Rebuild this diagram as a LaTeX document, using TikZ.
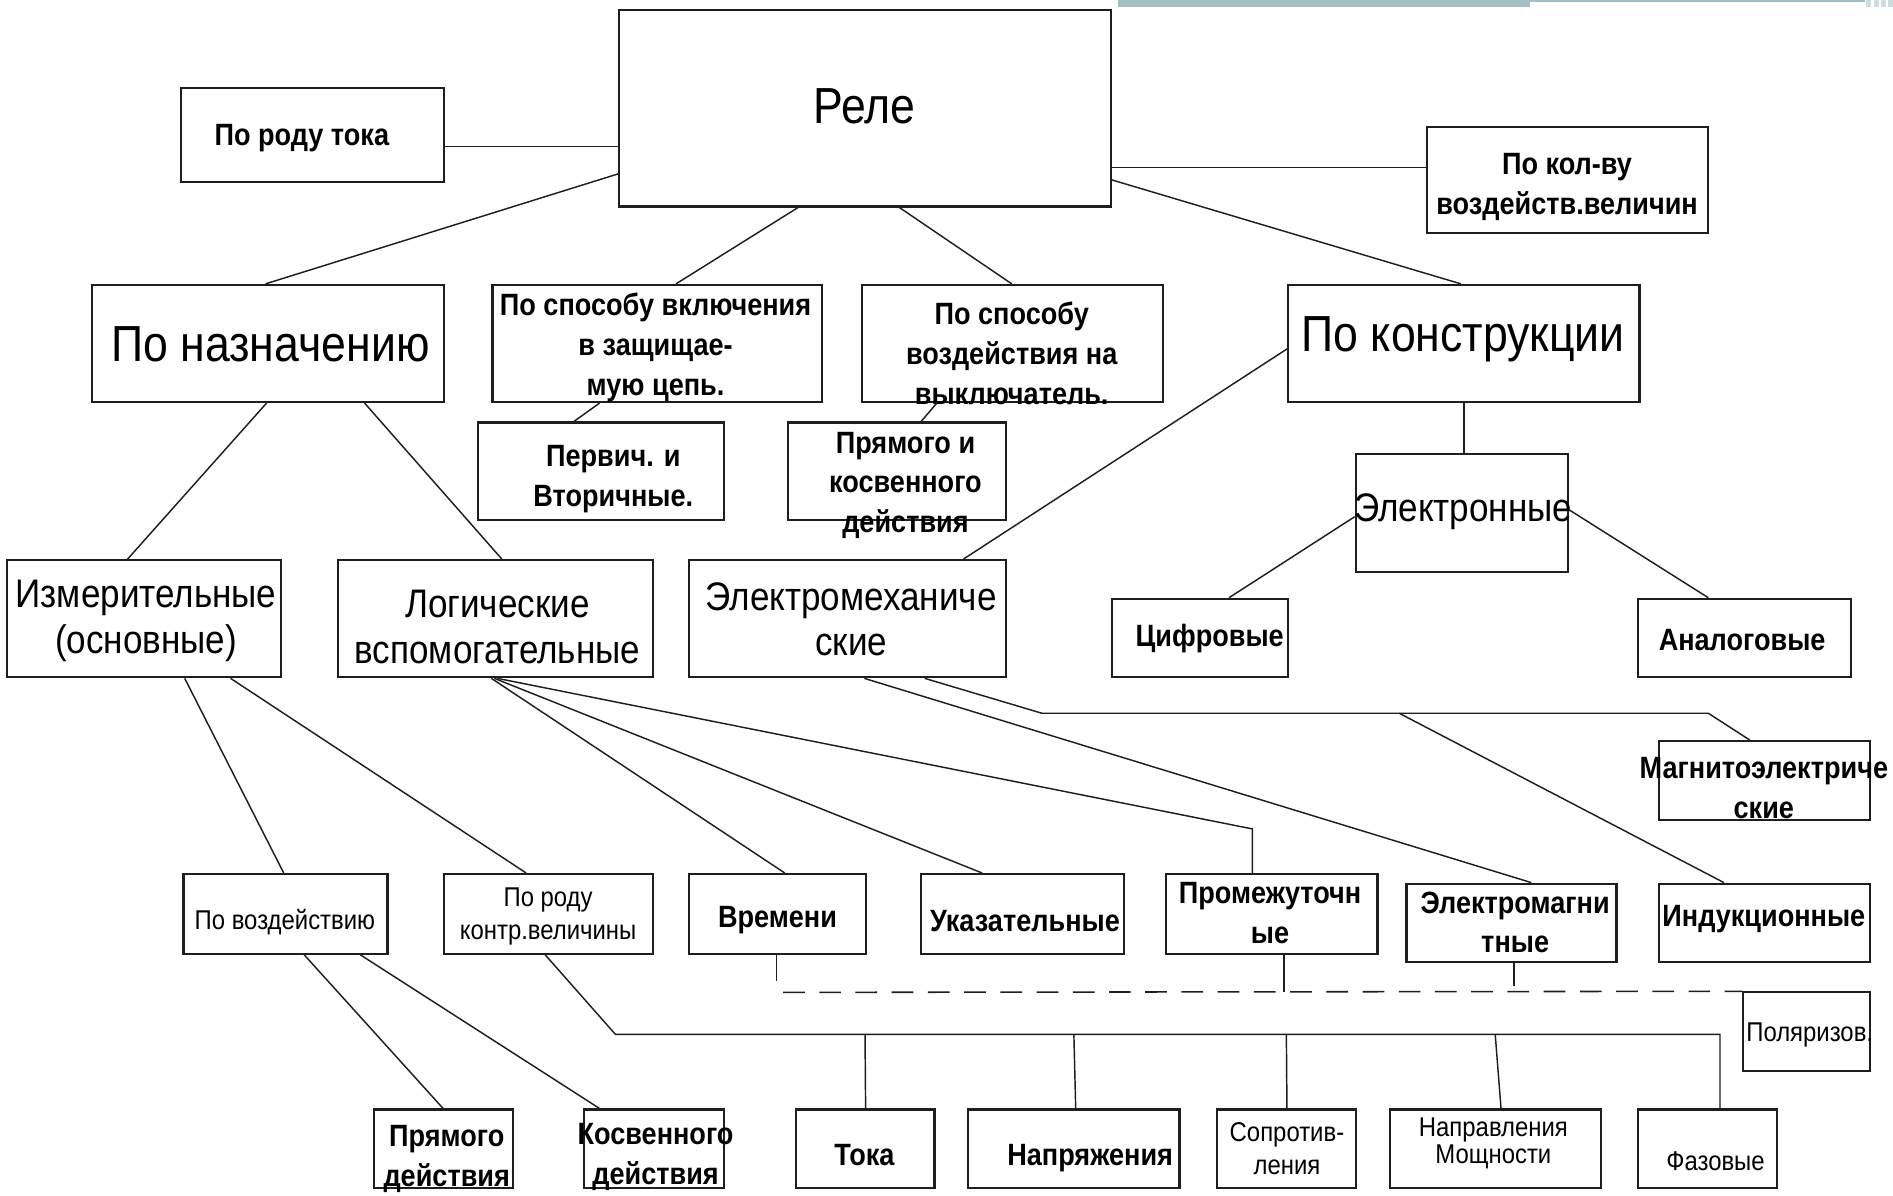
\documentclass[tikz,border=0pt]{standalone}
\usepackage{fontspec}
\setmainfont[FakeStretch=0.88]{Liberation Sans}
\usetikzlibrary{fit}
\definecolor{deco}{RGB}{163,191,196}
\definecolor{ink}{RGB}{30,30,30}
\begin{document}
\begin{tikzpicture}[x=1pt,y=-1pt,
  box/.style={draw=ink, line width=1.8pt, inner sep=0pt},
  ln/.style={draw=ink, line width=1.2pt},
  dln/.style={draw=ink, line width=1.3pt, dash pattern=on 18pt off 12pt},
  txt/.style={inner sep=0pt, align=center, text=black},
  tA/.style={txt, font=\fontsize{42}{48}\selectfont},
  tB/.style={txt, font=\fontsize{33}{38}\selectfont},
  tC/.style={txt, font=\bfseries\fontsize{25.5}{33}\selectfont},
  tD/.style={txt, font=\fontsize{22.5}{27}\selectfont}]
\useasboundingbox (0,0) rectangle (1568,990);
\fill[white] (0,0) rectangle (1568,990);
% decoration at top right
\fill[deco] (926,0) rectangle (1267,6);
\fill[deco] (1267,0) rectangle (1545,1.4);
\fill[deco!55] (1546,0) rectangle (1568,6);
\fill[white] (1550,0) rectangle (1552,6);
\fill[white] (1556,0) rectangle (1558,6);
\fill[white] (1562,0) rectangle (1564,6);

% boxes
\node[box, fit={(513,8) (920,171)}] (rele) {};
\node[box, fit={(150,73) (368,151)}] (rodtoka) {};
\node[box, fit={(1182,105) (1415,193)}] (kolvu) {};
\node[box, fit={(76,236) (368,333)}] (naznach) {};
\node[box, fit={(408,236) (681,333)}] (vkl) {};
\node[box, fit={(714,236) (963,333)}] (vozd) {};
\node[box, fit={(1067,236) (1358,333)}] (konstr) {};
\node[box, fit={(396,350) (600,431)}] (perv) {};
\node[box, fit={(653,350) (833,431)}] (pryam) {};
\node[box, fit={(1123,376) (1299,474)}] (electron) {};
\node[box, fit={(6,464) (233,561)}] (izmer) {};
\node[box, fit={(280,464) (541,561)}] (logich) {};
\node[box, fit={(571,464) (833,561)}] (emech) {};
\node[box, fit={(921,496) (1067,561)}] (cifr) {};
\node[box, fit={(1357,496) (1533,561)}] (analog) {};
\node[box, fit={(1374,614) (1549,679)}] (magnito) {};
\node[box, fit={(152,724) (321,790)}] (povozd) {};
\node[box, fit={(368,724) (541,790)}] (porodu) {};
\node[box, fit={(571,724) (717,790)}] (vremeni) {};
\node[box, fit={(763,724) (931,790)}] (ukaz) {};
\node[box, fit={(966,724) (1141,790)}] (promezh) {};
\node[box, fit={(1165,732) (1339,797)}] (emagn) {};
\node[box, fit={(1374,732) (1549,797)}] (indukc) {};
\node[box, fit={(1444,822) (1549,887)}] (polyar) {};
\node[box, fit={(310,919) (425,984)}] (pryamd) {};
\node[box, fit={(484,919) (600,984)}] (kosvd) {};
\node[box, fit={(659,919) (774,984)}] (toka) {};
\node[box, fit={(802,919) (977,984)}] (napr) {};
\node[box, fit={(1008,919) (1123,984)}] (sopr) {};
\node[box, fit={(1151,919) (1326,984)}] (napravl) {};
\node[box, fit={(1357,919) (1472,984)}] (fazov) {};

% texts
\node[tA] (rele-t) at (716,88) {Реле};
\node[tC] (rodtoka-t) at (250,114) {По роду тока};
\node[tC] (kolvu-t) at (1298,155) {По кол-ву\\воздейств.величин};
\node[tA] (naznach-t) at (224,285) {По назначению};
\node[tC] (vkl-t) at (543,288) {По способу включения\\в защищае-\\мую цепь.};
\node[tC] (vozd-t) at (838,292.5) {По способу\\воздействия на\\выключатель.};
\node[tA] (konstr-t) at (1212,281) {По конструкции};
\node[tC] (perv-t) at (508,397) {Первич. и\\Вторичные.};
\node[tC] (pryam-t) at (750,402) {Прямого и\\косвенного\\действия};
\node[tB] (electron-t) at (1212,424) {Электронные};
\node[tB] (izmer-t) at (121,514) {Измерительные\\(основные)};
\node[tB] (logich-t) at (412,519) {Логические\\вспомогательные};
\node[tB] (emech-t) at (705,513) {Электромеханиче\\ские};
\node[tC] (cifr-t) at (1002,529) {Цифровые};
\node[tC] (analog-t) at (1443,530) {Аналоговые};
\node[tC] (magnito-t) at (1461,653) {Магнитоэлектриче\\ские};
\node[tD] (povozd-t) at (236,764) {По воздействию};
\node[tD] (porodu-t) at (454,759) {По роду\\контр.величины};
\node[tC] (vremeni-t) at (644,762) {Времени};
\node[tC] (ukaz-t) at (849,763) {Указательные};
\node[tC] (promezh-t) at (1052,756) {Промежуточн\\ые};
\node[tC] (emagn-t) at (1255,764) {Электромагни\\тные};
\node[tC] (indukc-t) at (1461,761) {Индукционные};
\node[tD] (polyar-t) at (1499,857) {Поляризов.};
\node[tC] (pryamd-t) at (370,960) {Прямого\\действия};
\node[tC] (kosvd-t) at (543,958) {Косвенного\\действия};
\node[tC] (toka-t) at (716,957) {Тока};
\node[tC] (napr-t) at (903,959) {Напряжения};
\node[tD] (sopr-t) at (1066,951.5) {Сопротив-\\ления};
\node[tD, font=\fontsize{22.5}{22.5}\selectfont] (napravl-t) at (1237,947) {Направления\\Мощности};
\node[tD] (fazov-t) at (1421,962) {Фазовые};

% connectors
\draw[ln] (rodtoka.east |- 0,121.5) -- (rele.west |- 0,121.5);
\draw[ln] (rele.east |- 0,138.6) -- (kolvu.west |- 0,138.6);
\draw[ln] (rele.west |- 0,144) -- (naznach.north -| 220,0);
\draw[ln] (rele.south -| 661,0) -- (vkl.north -| 560,0);
\draw[ln] (rele.south -| 745,0) -- (vozd.north -| 838,0);
\draw[ln] (rele.east |- 0,149) -- (konstr.north -| 1210,0);
\draw[ln] (naznach.south -| 220.8,0) -- (izmer.north -| 105.7,0);
\draw[ln] (naznach.south -| 302,0) -- (logich.north -| 415.7,0);
\draw[ln] (vkl.south -| 496.6,0) -- (perv.north -| 475.4,0);
\draw[ln] (vozd.south -| 776,0) -- (pryam.north -| 763,0);
\draw[ln] (konstr.west |- 0,289) -- (emech.north -| 798,0);
\draw[ln] (konstr.south -| 1212.7,0) -- (electron.north -| 1212.7,0);
\draw[ln] (electron.west |- 0,428) -- (cifr.north -| 1018,0);
\draw[ln] (electron.east |- 0,422.4) -- (analog.north -| 1415,0);
\draw[ln] (izmer.south -| 153,0) -- (povozd.north -| 235,0);
\draw[ln] (izmer.south -| 191,0) -- (porodu.north -| 435.8,0);
\draw[ln] (logich.south -| 407,0) -- (vremeni.north -| 650,0);
\draw[ln] (logich.south -| 409.5,0) -- (ukaz.north -| 813.5,0);
\draw[ln] (logich.south -| 412,0) -- (1037.4,686.6) -- (promezh.north -| 1037.4,0);
\draw[ln] (emech.south -| 716,0) -- (emagn.north -| 1268.5,0);
\coordinate (jm) at (1159,590.8);
\draw[ln] (emech.south -| 766,0) -- (863,590.8) -- (jm) -- (1415,590.8) -- (magnito.north -| 1449.5,0);
\draw[ln] (jm) -- (indukc.north -| 1428,0);
\draw[ln] (povozd.south -| 252,0) -- (pryamd.north -| 367,0);
\draw[ln] (povozd.south -| 298.5,0) -- (kosvd.north -| 496.5,0);
\draw[ln] (porodu.south -| 451.6,0) -- (509.7,856.7) -- (1424.7,856.7) -- (fazov.north -| 1424.7,0);
\draw[ln] (toka.north |- 0,856.7) -- (toka.north -| 717,0);
\draw[ln] (napr.north |- 0,856.7) -- (napr.north -| 891,0);
\draw[ln] (sopr.north |- 0,856.7) -- (sopr.north -| 1066,0);
\draw[ln] (napravl.north |- 0,856.7) -- (napravl.north -| 1243.3,0);
% dashed bus
\coordinate (d1) at (648.6,822);
\coordinate (v1) at (643.4,812.4);
\coordinate (v2) at (1063.6,822);
\coordinate (v3) at (1254,816.4);
\draw[dln] (d1) -- (polyar.north west);
\draw[ln] (vremeni.south -| 643.4,0) -- (v1);
\draw[ln] (promezh.south -| 1063.6,0) -- (v2);
\draw[ln] (emagn.south -| 1254,0) -- (v3);
\end{tikzpicture}
\end{document}
